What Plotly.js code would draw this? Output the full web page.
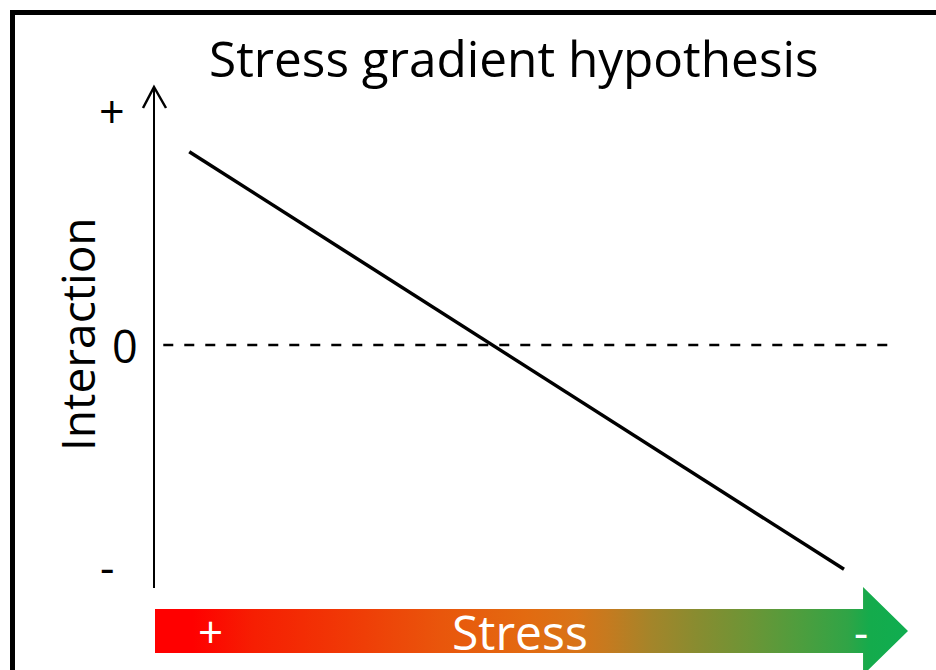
<!DOCTYPE html>
<html>
<head>
<meta charset="utf-8">
<script src="https://cdn.plot.ly/plotly-3.0.1.min.js"></script>
<style>
  html, body { margin: 0; padding: 0; background: #ffffff; }
  #chart { width: 936px; height: 670px; }
</style>
</head>
<body>
<div id="chart"></div>
<script>
// ---- data (schematic: stress level vs. interaction) ----
const stress = [0.0455, 0.915];          // high stress (left) -> low stress (right)
const interaction = [0.848, -0.984];     // facilitation (+) -> competition (-)
const zeroStress = [0.011, 0.983];
const zeroInteraction = [0, 0];
const yTickVals = [1.03, 0, -0.97];
const yTickText = ['+', '0', '-'];
const yTickX = [112, 125, 107];          // label centres (px)
const stressLabels = ['+', 'Stress', '-'];
const stressLabelX = [0.074, 0.485, 0.938];
const stressLabelSize = [44, 48, 44];
const gradientScale = [
  [0.00, '#FF0000'], [0.05, '#FF0000'], [0.13, '#F61E02'], [0.26, '#F03A06'],
  [0.38, '#E9560C'], [0.49, '#E36A10'], [0.56, '#D87418'], [0.60, '#C67A1F'],
  [0.66, '#A3852A'], [0.72, '#888C30'], [0.79, '#6C9536'], [0.86, '#4C9E3E'],
  [0.92, '#30A446'], [0.95, '#14AB4C'], [1.00, '#10AD50']
];

// ---- geometry helpers ----
const W = 936, H = 670;
const px = v => v / W;
const py = v => (H - v) / H;
const FONT = 'Open Sans, Noto Sans, sans-serif';

// gradient arrow (x in main x-axis units, y in px around the arrow centre line)
const shaftHalf = 22, headHalf = 44, headStart = 0.9403, tip = 1.0;
const arrowX = [0, headStart, headStart, tip, headStart, headStart, 0, 0];
const arrowY = [shaftHalf, shaftHalf, headHalf, 0, -headHalf, -shaftHalf, -shaftHalf, shaftHalf];

const traces = [
  {
    x: zeroStress, y: zeroInteraction, type: 'scatter', mode: 'lines',
    line: { color: '#000000', width: 2.5, dash: '10px,11px' },
    hoverinfo: 'skip', showlegend: false
  },
  {
    x: stress, y: interaction, type: 'scatter', mode: 'lines',
    line: { color: '#000000', width: 3.5 },
    showlegend: false
  },
  {
    x: arrowX, y: arrowY, xaxis: 'x', yaxis: 'y2', type: 'scatter', mode: 'lines',
    fill: 'toself', line: { width: 0, color: 'rgba(0,0,0,0)' },
    fillcolor: '#E36A10',
    fillgradient: { type: 'horizontal', colorscale: gradientScale },
    hoverinfo: 'skip', showlegend: false
  }
];

const annotations = [];
// title
annotations.push({
  xref: 'paper', yref: 'paper', x: px(514), y: py(58),
  text: 'Stress gradient hypothesis', showarrow: false,
  xanchor: 'center', yanchor: 'middle',
  font: { family: FONT, size: 49.5, color: '#000000' }
});
// y-axis title
annotations.push({
  xref: 'paper', yref: 'paper', x: px(77), y: py(334),
  text: 'Interaction', showarrow: false, textangle: -90,
  xanchor: 'center', yanchor: 'middle',
  font: { family: FONT, size: 46, color: '#000000' }
});
// y tick labels
yTickVals.forEach((v, i) => {
  annotations.push({
    xref: 'paper', yref: 'y', x: px(yTickX[i]), y: v,
    text: yTickText[i], showarrow: false, xanchor: 'center', yanchor: 'middle',
    font: { family: FONT, size: 45, color: '#000000' }
  });
});
// labels in the stress arrow
stressLabels.forEach((t, i) => {
  annotations.push({
    xref: 'x', yref: 'y2', x: stressLabelX[i], y: 0,
    text: t, showarrow: false, xanchor: 'center', yanchor: 'middle',
    font: { family: FONT, size: stressLabelSize[i], color: '#ffffff' }
  });
});

const layout = {
  width: W, height: H,
  margin: { l: 0, r: 0, t: 0, b: 0, pad: 0 },
  paper_bgcolor: '#ffffff', plot_bgcolor: 'rgba(0,0,0,0)',
  showlegend: false,
  xaxis: {
    domain: [px(155), px(908)], range: [0, 1],
    showline: false, showgrid: false, zeroline: false,
    showticklabels: false, ticks: '', fixedrange: true
  },
  yaxis: {
    domain: [py(588), py(87)], range: [-1.0658, 1.1316],
    showline: true, linecolor: '#000000', linewidth: 2.5,
    showgrid: false, zeroline: false, showticklabels: false, ticks: '',
    fixedrange: true
  },
  yaxis2: {
    domain: [0, py(585)], range: [-39, 46], anchor: 'x',
    visible: false, fixedrange: true
  },
  annotations: annotations,
  shapes: [
    // outer frame (right and bottom edges lie outside the picture)
    {
      type: 'rect', xref: 'paper', yref: 'paper',
      x0: px(12.5), x1: 1.2, y0: -0.2, y1: py(12.5),
      line: { color: '#000000', width: 5 }, fillcolor: 'rgba(0,0,0,0)'
    },
    // open arrow head on the y axis
    {
      type: 'path', xref: 'paper', yref: 'paper',
      path: 'M ' + px(143) + ' ' + py(108) + ' L ' + px(154) + ' ' + py(87) +
            ' L ' + px(166) + ' ' + py(108),
      line: { color: '#000000', width: 2.5 }
    }
  ]
};

Plotly.newPlot('chart', traces, layout, { staticPlot: true, displayModeBar: false });
</script>
</body>
</html>
